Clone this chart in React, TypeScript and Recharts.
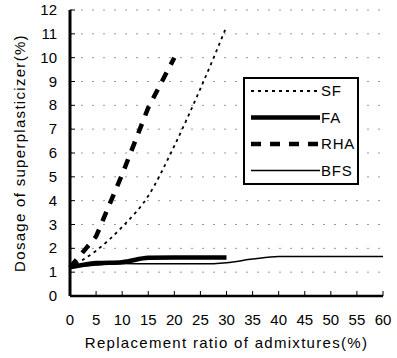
import React from 'react';
import { LineChart, Line, XAxis, YAxis, CartesianGrid } from 'recharts';

const ratios = [0, 5, 10, 15, 20, 25, 30, 35, 40, 45, 50, 55, 60];
const sf = [1.2, 1.9, 2.9, 4.2, 6.3, 8.7, 11.3];
const fa = [1.2, 1.38, 1.42, 1.6, 1.62, 1.62, 1.62];
const rha = [1.2, 2.5, 5.1, 7.9, 10.0];
const bfs = [1.2, 1.3, 1.36, 1.35, 1.35, 1.35, 1.4, 1.55, 1.66, 1.66, 1.66, 1.66, 1.66];
const yTicks = [0, 1, 2, 3, 4, 5, 6, 7, 8, 9, 10, 11, 12];

const data = ratios.map((r, i) => ({
  ratio: r,
  SF: sf[i] ?? null,
  FA: fa[i] ?? null,
  RHA: rha[i] ?? null,
  BFS: bfs[i] ?? null,
}));

const font = 'Liberation Sans, Arial, sans-serif';

const legendItems = [
  { name: 'SF', width: 1.8, dash: '3 4' },
  { name: 'FA', width: 4.5, dash: undefined },
  { name: 'RHA', width: 4.5, dash: '10 9' },
  { name: 'BFS', width: 1.5, dash: undefined },
];

const XTick = (props: any) => {
  const { x, y, payload } = props;
  return (
    <g>
      <line x1={x} x2={x} y1={y} y2={y - 5} stroke="#000" strokeWidth={1} />
      <text x={x} y={y + 29} textAnchor="middle" fontSize={15} fontFamily={font} fill="#000">
        {payload.value}
      </text>
    </g>
  );
};

const YTick = (props: any) => {
  const { x, y, payload } = props;
  return (
    <g>
      <line x1={x} x2={x + 5} y1={y} y2={y} stroke="#000" strokeWidth={1} />
      <text x={x - 13} y={y + 5} textAnchor="end" fontSize={15} fontFamily={font} fill="#000">
        {payload.value}
      </text>
    </g>
  );
};

const LegendBox = () => (
  <svg width={112} height={104} style={{ display: 'block' }}>
    {legendItems.map((it, i) => {
      const y = 12 + i * 26.5;
      return (
        <g key={it.name}>
          <line x1={6} x2={75} y1={y} y2={y} stroke="#000" strokeWidth={it.width} strokeDasharray={it.dash} />
          <text x={76} y={y + 5} fontSize={15} fontFamily={font} fill="#000" letterSpacing={0.8}>
            {it.name}
          </text>
        </g>
      );
    })}
  </svg>
);

export default function App() {
  return (
    <div style={{ position: 'absolute', left: 0, top: 0, width: 397, height: 358, background: '#fff' }}>
      <LineChart width={397} height={358} data={data} margin={{ top: 10, right: 14, left: 0, bottom: 0 }}>
        <CartesianGrid vertical={false} stroke="#999" strokeDasharray="2 9" />
        <XAxis
          dataKey="ratio"
          type="number"
          domain={[0, 60]}
          ticks={ratios}
          interval={0}
          tickSize={0}
          tickMargin={0}
          tick={<XTick />}
          axisLine={{ stroke: '#000', strokeWidth: 2.5 }}
          height={62}
          label={{ value: 'Replacement ratio of admixtures(%)', position: 'insideBottom', offset: 10, fontSize: 15, fontFamily: font, fill: '#000', letterSpacing: 1.3 }}
        />
        <XAxis xAxisId="top" orientation="top" dataKey="ratio" type="number" domain={[0, 60]} height={0} tick={false} tickLine={false} axisLine={{ stroke: '#000', strokeWidth: 2 }} />
        <YAxis
          type="number"
          domain={[0, 12]}
          ticks={yTicks}
          interval={0}
          tickSize={0}
          tickMargin={0}
          tick={<YTick />}
          width={70}
          axisLine={{ stroke: '#000', strokeWidth: 3 }}
          label={{ value: 'Dosage of superplasticizer(%)', angle: -90, position: 'insideLeft', offset: 20, fontSize: 15, fontFamily: font, fill: '#000', letterSpacing: 1.3, style: { textAnchor: 'middle' } }}
        />
        <YAxis yAxisId="right" orientation="right" domain={[0, 12]} width={0} tick={false} tickLine={false} axisLine={{ stroke: '#000', strokeWidth: 2 }} />
        <Line type="monotone" dataKey="BFS" stroke="#000" strokeWidth={1.5} dot={false} isAnimationActive={false} />
        <Line type="monotone" dataKey="SF" stroke="#000" strokeWidth={1.8} strokeDasharray="3 4" dot={false} isAnimationActive={false} />
        <Line type="linear" dataKey="RHA" stroke="#000" strokeWidth={4.5} strokeDasharray="10 9" dot={false} isAnimationActive={false} />
        <Line type="monotone" dataKey="FA" stroke="#000" strokeWidth={4.5} dot={false} isAnimationActive={false} />
      </LineChart>
      <div style={{ position: 'absolute', left: 243, top: 77, width: 112, height: 104, border: '2px solid #000', background: '#fff' }}>
        <LegendBox />
      </div>
    </div>
  );
}
